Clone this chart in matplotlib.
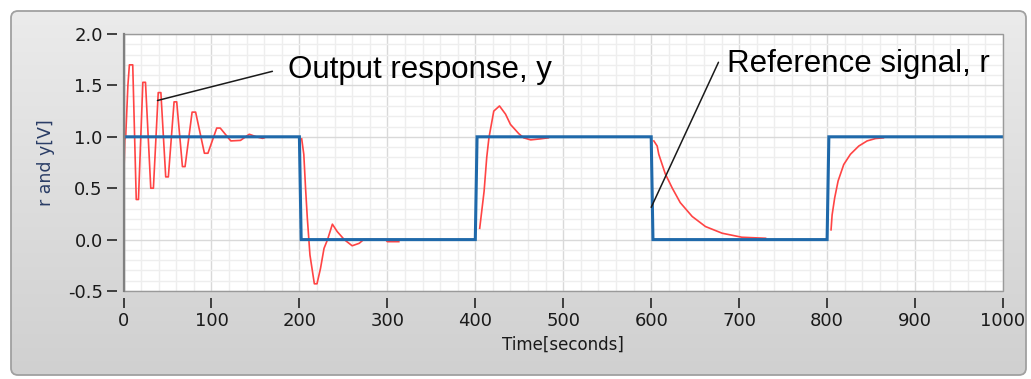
"""Step response of a closed loop vs. its square-wave reference,
drawn in the look of a LabVIEW waveform graph."""

import matplotlib

matplotlib.use("Agg")
import matplotlib.pyplot as plt  # noqa: E402
import numpy as np  # noqa: E402
from matplotlib.patches import FancyBboxPatch, Rectangle  # noqa: E402
from matplotlib.ticker import FormatStrFormatter, MultipleLocator  # noqa: E402

plt.rcParams["axes.unicode_minus"] = False

# reference signal r (square wave)
ref_t = [0, 200, 202, 400, 402, 600, 602, 800, 802, 1000]
ref_r = [1, 1, 0, 0, 1, 1, 0, 0, 1, 1]

# output response y, one piece after each step
y1_t = [0, 1.5, 2.5, 5, 6.7, 10.5, 14.5, 17, 22, 25, 31, 34, 39.5, 42.5,
        48, 51, 57.5, 60.5, 67, 70, 78, 82, 92, 96, 106, 110, 122,
        133, 143, 151, 158, 160]
y1_v = [0.5, 0.97, 1.0, 1.5, 1.7, 1.7, 0.39, 0.39, 1.53, 1.53, 0.5, 0.5,
        1.43, 1.43, 0.61, 0.61, 1.34, 1.34, 0.71, 0.71, 1.24, 1.24, 0.84,
        0.84, 1.085, 1.085, 0.96, 0.965, 1.025, 1.0, 0.985, 0.99]
y2_t = [202.6, 205, 207, 209, 212, 217, 220, 224, 228, 232, 237.5, 243, 251,
        260, 268, 273, 298, 300, 313]
y2_v = [0.98, 0.83, 0.5, 0.21, -0.15, -0.43, -0.43, -0.28, -0.085, 0.0, 0.15,
        0.078, 0.0, -0.06, -0.036, 0.0, 0.0, -0.02, -0.02]
y3_t = [405, 410, 413, 415.5, 421, 427.5, 434.4, 440, 449.5, 455, 463, 474, 483]
y3_v = [0.11, 0.47, 0.80, 0.99, 1.25, 1.30, 1.22, 1.12, 1.03, 0.99, 0.97, 0.98,
        0.99]
y4_t = [603, 606.8, 608.6, 616, 624, 633, 646.6, 661.7, 680.7, 703, 730]
y4_v = [0.96, 0.91, 0.83, 0.64, 0.50, 0.36, 0.225, 0.127, 0.062, 0.023, 0.013]
y5_t = [804.5, 805.7, 808.6, 812.5, 818.9, 826.5, 836, 845.5, 855, 864]
y5_v = [0.095, 0.24, 0.405, 0.57, 0.73, 0.83, 0.91, 0.96, 0.983, 0.99]

RED = "#ff4444"
BLUE = "#1f69aa"
W, H = 1031, 379

fig = plt.figure(figsize=(W / 100, H / 100), dpi=100)
fig.patch.set_facecolor("white")

# grey rounded panel with a soft vertical gradient
bg = fig.add_axes([0, 0, 1, 1], zorder=-5)
bg.set_xlim(0, W)
bg.set_ylim(H, 0)
bg.axis("off")
frame = FancyBboxPatch((11, 11), W - 16, H - 15,
                       boxstyle="round,pad=0,rounding_size=7",
                       fc="none", ec="#a0a0a0", lw=1.3, zorder=3)
bg.add_patch(frame)
grad = np.linspace(0, 1, 256)[:, None]
img = bg.imshow(grad, cmap=matplotlib.colors.LinearSegmentedColormap.from_list(
    "panel", ["#ebebeb", "#d0d0d0"]), extent=(11, W - 5, H - 4, 11),
    aspect="auto", zorder=1)
img.set_clip_path(frame)

ax = fig.add_axes([123.5 / W, 1 - 291 / H, 879.5 / W, 257 / H])
ax.set_facecolor("white")

for seg_t, seg_v in [(y1_t, y1_v), (y2_t, y2_v), (y3_t, y3_v),
                     (y4_t, y4_v), (y5_t, y5_v)]:
    ax.plot(seg_t, seg_v, color=RED, lw=1.2, zorder=3)
ax.plot(ref_t, ref_r, color=BLUE, lw=2.2, zorder=4, solid_joinstyle="miter")

ax.set_xlim(0, 1000)
ax.set_ylim(-0.5, 2.0)
ax.xaxis.set_major_locator(MultipleLocator(100))
ax.xaxis.set_minor_locator(MultipleLocator(20))
ax.yaxis.set_major_locator(MultipleLocator(0.5))
ax.yaxis.set_minor_locator(MultipleLocator(0.1))
ax.yaxis.set_major_formatter(FormatStrFormatter("%.1f"))
ax.grid(which="major", color="#d9d9d9", lw=1.0, zorder=0)
ax.grid(which="minor", color="#eeeeee", lw=1.0, zorder=0)
ax.set_axisbelow(True)

# LabVIEW scales sit a few pixels away from the plot area
for side in ("left", "bottom"):
    ax.spines[side].set_position(("outward", 5))
    ax.spines[side].set_visible(False)
for side in ("right", "top"):
    ax.spines[side].set_visible(False)
ax.add_patch(Rectangle((0, 0), 1, 1, transform=ax.transAxes, fill=False,
                       ec="#9a9a9a", lw=1.0, clip_on=False, zorder=5))
ax.plot([0, 0], [0, 1], transform=ax.transAxes, color="#808080", lw=1.6,
        clip_on=False, zorder=5)

ax.tick_params(which="major", direction="out", length=7, width=1.3,
               color="#333333", labelsize=13, labelcolor="#1a1a1a", pad=3)
ax.tick_params(which="minor", length=0)
ax.set_xlabel("Time[seconds]", fontsize=12, color="#1a1a1a", labelpad=4)
ax.set_ylabel("r and y[V]", fontsize=12.5, color="#2a3d66", labelpad=9)

ann = dict(fontsize=22.5, family=["Liberation Sans", "DejaVu Sans"],
           va="center", ha="left", color="black", zorder=6)
ax.text(186.7, 1.647, "Output response, y", **ann)
ax.text(686.7, 1.706, "Reference signal, r", **ann)
line = dict(arrowstyle="-", color="#1a1a1a", lw=1.1, shrinkA=0, shrinkB=0)
ax.annotate("", xy=(38.6, 1.353), xytext=(169.3, 1.637), arrowprops=line,
            zorder=6)
ax.annotate("", xy=(600, 0.314), xytext=(676.5, 1.725), arrowprops=line,
            zorder=6)

fig.savefig("out.png", dpi=100)
